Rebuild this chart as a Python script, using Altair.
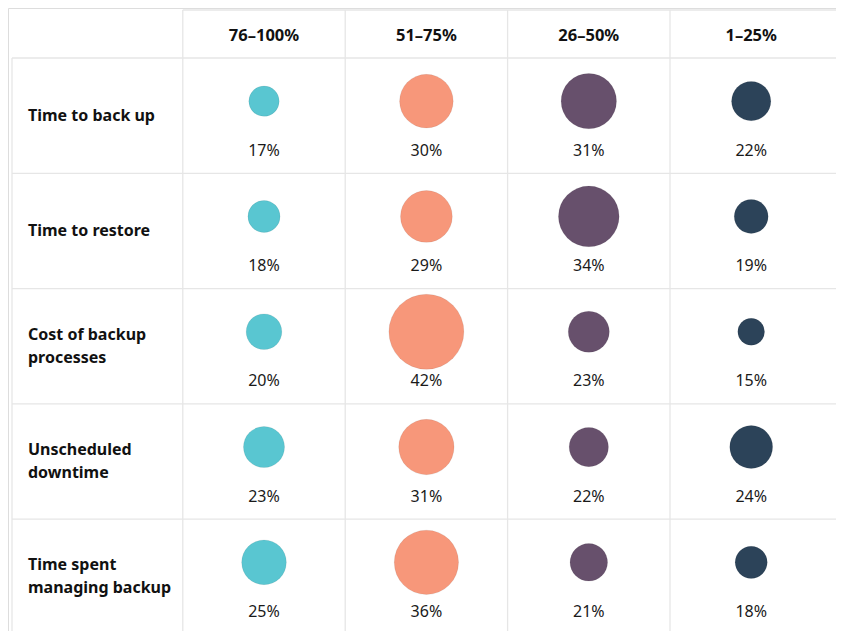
import altair as alt
import pandas as pd

# ---- data ----
columns = ["76–100%", "51–75%", "26–50%", "1–25%"]
rows = [
    "Time to back up",
    "Time to restore",
    "Cost of backup\nprocesses",
    "Unscheduled\ndowntime",
    "Time spent\nmanaging backup",
]
v_76_100 = [17, 18, 20, 23, 25]
v_51_75 = [30, 29, 42, 31, 36]
v_26_50 = [31, 34, 23, 22, 21]
v_1_25 = [22, 19, 15, 24, 18]
colors = ["#59C6D1", "#F7977A", "#67506C", "#2C4359"]

series = [v_76_100, v_51_75, v_26_50, v_1_25]

W, H = 828, 623
STEP_X = 162.4
STEP_Y = 115.3
LINE_H = 23

# ---- tables ----
cells = pd.DataFrame(
    [
        {"col": ci, "colname": c, "row": ri, "yc": ri + 0.5, "value": series[ci][ri],
         "label": f"{series[ci][ri]}%"}
        for ci, c in enumerate(columns)
        for ri in range(len(rows))
    ]
)
row_df = pd.DataFrame({"row": range(len(rows)), "name": rows})
row_df["nlines"] = row_df["name"].str.count("\n") + 1
row_df["yc"] = row_df["row"] + 0.5 - (row_df["nlines"] - 1) * (LINE_H / 2) / STEP_Y
head_df = pd.DataFrame({"col": range(len(columns)), "name": columns})

X_MIN = -256 / STEP_X
X_MAX = (W - 256) / STEP_X
Y_MIN = -50 / STEP_Y
Y_MAX = (H - 50) / STEP_Y
LABEL_LEFT = X_MIN + 4 / STEP_X
HEAD_TOP = Y_MIN + 2 / STEP_Y
HEAD_MID = HEAD_TOP / 2

xs = alt.Scale(domain=[X_MIN, X_MAX], nice=False, zero=False)
ys = alt.Scale(domain=[Y_MIN, Y_MAX], nice=False, zero=False, reverse=True)

# grid lines
vlines = [{"x": LABEL_LEFT, "y": 0, "y2": Y_MAX}]
vlines += [{"x": i - 0.5, "y": HEAD_TOP, "y2": Y_MAX} for i in range(len(columns))]
hlines = [{"y": HEAD_TOP, "x": -0.5, "x2": X_MAX}]
hlines += [{"y": j, "x": LABEL_LEFT, "x2": X_MAX} for j in range(len(rows))]

grid_color = "#E6E6E6"
v_rule = alt.Chart(pd.DataFrame(vlines)).mark_rule(color=grid_color, strokeWidth=1.3).encode(
    x=alt.X("x:Q", scale=xs, axis=None), y=alt.Y("y:Q", scale=ys, axis=None), y2="y2:Q"
)
h_rule = alt.Chart(pd.DataFrame(hlines)).mark_rule(color=grid_color, strokeWidth=1.3).encode(
    y=alt.Y("y:Q", scale=ys, axis=None), x=alt.X("x:Q", scale=xs, axis=None), x2="x2:Q"
)

FONT = "Noto Sans"

header = alt.Chart(head_df).mark_text(
    font=FONT, fontSize=16.5, fontWeight="bold", color="#111111", dy=1.5
).encode(
    x=alt.X("col:Q", scale=xs, axis=None),
    y=alt.Y("hy:Q", scale=ys, axis=None),
    text="name:N",
).transform_calculate(hy=str(HEAD_MID))

row_labels = alt.Chart(row_df).mark_text(
    font=FONT, fontSize=16, fontWeight="bold", color="#111111",
    align="left", baseline="middle", lineBreak="\n", lineHeight=LINE_H, dx=16
).encode(
    x=alt.X("lx:Q", scale=xs, axis=None),
    y=alt.Y("yc:Q", scale=ys, axis=None),
    text="name:N",
).transform_calculate(lx=str(LABEL_LEFT))

dmax = 75.0
circles = alt.Chart(cells).mark_circle(opacity=1, yOffset=-14.5, stroke="#00000022", strokeWidth=0.5).encode(
    x=alt.X("col:Q", scale=xs, axis=None),
    y=alt.Y("yc:Q", scale=ys, axis=None),
    size=alt.Size(
        "value:Q",
        scale=alt.Scale(type="pow", exponent=2, domain=[0, 42], range=[0, dmax ** 2]),
        legend=None,
    ),
    color=alt.Color("colname:N", scale=alt.Scale(domain=columns, range=colors), legend=None),
)

values = alt.Chart(cells).mark_text(
    font=FONT, fontSize=16, color="#1a1a1a", dy=35
).encode(
    x=alt.X("col:Q", scale=xs, axis=None),
    y=alt.Y("yc:Q", scale=ys, axis=None),
    text="label:N",
)

chart = (
    alt.layer(v_rule, h_rule, header, row_labels, circles, values)
    .properties(width=W, height=H, autosize=alt.AutoSizeParams(type="none"), padding=0)
    .configure_view(stroke=None)
    .configure(background="white")
)

chart.save("out.html", embed_options={"renderer": "svg", "actions": False})
